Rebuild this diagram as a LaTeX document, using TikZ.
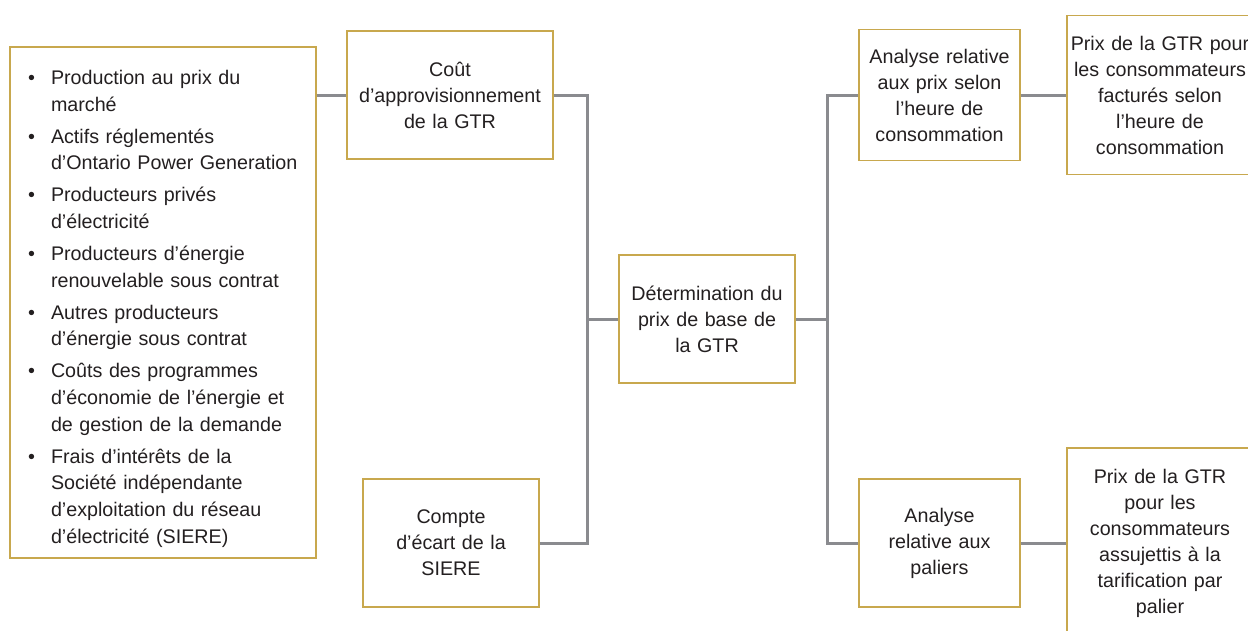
\documentclass[tikz,border=0pt]{standalone}
\usepackage{fontspec}
\setmainfont{Liberation Sans}
\usepackage{enumitem}
\usepackage{tikz}
\usetikzlibrary{positioning,calc}
\definecolor{dore}{RGB}{200,168,78}
\definecolor{gris}{RGB}{138,139,143}
\definecolor{encre}{RGB}{35,31,32}
\tikzset{boite/.style={draw=dore, line width=1.4pt, rectangle, align=center, inner xsep=2pt, inner ysep=2pt, minimum height=128pt, text=encre}}
\tikzstyle{lien}=[draw=gris, line width=3pt]

\begin{document}
\begin{tikzpicture}[x=1pt, y=-1pt, font=\fontsize{19.7}{26}\selectfont]
\path[use as bounding box, clip] (0,0) rectangle (1248,630);
\node[boite, align=left, inner xsep=14pt, text width=278pt, minimum height=511pt, font=\fontsize{19.7}{26.6}\selectfont] (L) at (163,302.5) {%
\begin{itemize}[leftmargin=27pt, labelsep=16pt, itemsep=5.5pt, parsep=0pt, topsep=0pt, partopsep=0pt, label=\textbullet]
\item Production au prix du\\ marché
\item Actifs réglementés\\ d’Ontario Power Generation
\item Producteurs privés\\ d’électricité
\item Producteurs d’énergie\\ renouvelable sous contrat
\item Autres producteurs\\ d’énergie sous contrat
\item Coûts des programmes\\ d’économie de l’énergie et\\ de gestion de la demande
\item Frais d’intérêts de la\\ Société indépendante\\ d’exploitation du réseau\\ d’électricité (SIERE)
\end{itemize}};
\node[boite, text width=202pt] (C1) at (450,95) {Coût\\ d’approvisionnement\\ de la GTR};
\node[boite, text width=172pt] (C2) at (451,543) {Compte\\ d’écart de la\\ SIERE};
\node[boite, text width=172pt] (B) at (707,319) {Détermination du\\ prix de base de\\ la GTR};
\node[boite, text width=157pt, minimum height=131pt] (A1) at (939.5,95) {Analyse relative\\ aux prix selon\\ l’heure de\\ consommation};
\node[boite, text width=157pt] (A2) at (939.5,543) {Analyse\\ relative aux\\ paliers};
\node[boite, text width=182pt, minimum height=159pt][right of =A1, node distance=220.5pt] (P1) {Prix de la GTR pour\\ les consommateurs\\ facturés selon\\ l’heure de\\ consommation};
\node[boite, text width=182pt, minimum height=190pt][right of =A2, node distance=220.5pt] (P2) {Prix de la GTR\\ pour les\\ consommateurs\\ assujettis à la\\ tarification par\\ palier};
\coordinate (J1) at (587,319);
\coordinate (J2) at (827,319);
\draw[lien] (L.east |- C1.west) -- (C1.west);
\draw[lien] (C1.east) -| (J1) -- (B.west);
\draw[lien] (C2.east) -| (J1);
\draw[lien] (B.east) -- (J2) |- (A1.west);
\draw[lien] (J2) |- (A2.west);
\draw[lien] (A1.east) -- (A1.east -| P1.west);
\draw[lien] (A2.east) -- (A2.east -| P2.west);
\end{tikzpicture}
\end{document}
